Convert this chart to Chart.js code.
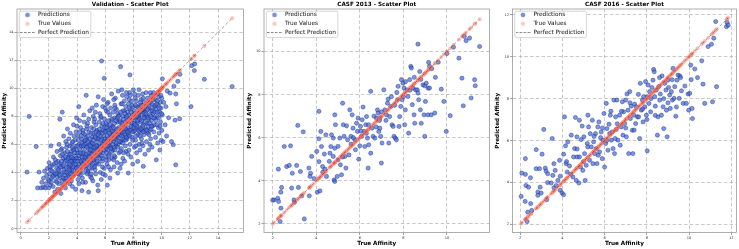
<!DOCTYPE html>
<html>
<head>
<meta charset="utf-8">
<script src="https://cdn.jsdelivr.net/npm/chart.js@4.4.0/dist/chart.umd.min.js"></script>
<style>
html, body { margin: 0; padding: 0; background: #fff; }
#wrap { position: relative; width: 739px; height: 249px; overflow: hidden; }
canvas { position: absolute; top: 0; }
</style>
</head>
<body>
<div id="wrap">
  <canvas id="c1" width="246" height="249" style="left:0px"></canvas>
  <canvas id="c2" width="246" height="249" style="left:246px"></canvas>
  <canvas id="c3" width="247" height="249" style="left:492px"></canvas>
</div>
<script>
// [true affinity, predicted affinity]
var valData = [
  [0.45,4.03],[0.6,8.0],[1.1,5.85],[1.3,4.03],[1.2,2.9],
  [1.45,2.9],[1.6,2.95],[1.75,2.9],[1.5,3.3],[1.62,3.6],[1.7,4.1],[1.8,3.2],[1.85,3.8],[1.9,4.3],[1.95,3.5],
  [2.0,2.9],[2.02,4.7],[2.05,3.9],[2.1,3.1],[2.12,4.2],[2.15,5.9],[2.2,3.6],[2.25,4.5],[2.3,3.0],[2.32,5.1],
  [2.35,3.8],[2.4,4.0],[2.42,2.6],[2.45,4.9],[2.5,3.4],
  [2.55,4.3],[2.58,5.5],[2.6,3.7],[2.62,2.8],[2.65,4.8],[2.7,3.2],[2.72,6.0],[2.75,4.1],[2.78,7.8],[2.8,3.6],
  [2.82,5.2],[2.85,2.5],[2.88,4.6],[2.9,3.9],[2.92,5.7],[2.95,8.3],[2.98,4.4],[3.0,3.1],[3.02,5.0],[3.05,6.6],
  [3.08,4.2],[3.1,3.5],[3.12,5.4],[3.15,4.8],[3.18,2.9],[3.2,6.2],[3.22,4.0],[3.25,5.8],[3.28,3.4],[3.3,4.6],
  [3.32,7.1],[3.35,5.1],[3.38,3.8],[3.4,4.4],[3.42,6.4],[3.45,5.3],[3.47,3.2],[3.5,4.9],[3.5,5.9],[3.48,4.1],
  [3.52,6.8],[3.55,4.5],[3.57,3.6],[3.6,5.5],[3.62,4.2],[3.65,6.1],[3.67,3.0],[3.7,5.0],[3.72,4.7],[3.75,7.4],
  [3.77,5.7],[3.8,3.9],[3.82,4.9],[3.85,6.3],[3.87,5.2],[3.9,2.8],[3.92,4.4],[3.95,5.9],[3.97,7.9],[4.0,4.1],
  [4.02,5.4],[4.05,6.6],[4.07,3.5],[4.1,5.0],[4.12,8.7],[4.15,4.6],[4.17,6.0],[4.2,5.6],[4.22,3.8],[4.25,7.2],
  [4.27,4.3],[4.3,5.3],[4.32,6.4],[4.35,2.7],[4.37,4.9],[4.4,5.8],[4.42,7.0],[4.45,4.0],[4.47,6.2],[4.5,5.1],
  [3.58,5.1],[3.68,4.3],[3.78,6.6],[3.88,4.0],[3.98,5.6],[4.08,4.4],[4.18,7.7],[4.28,5.9],[4.38,3.6],[4.48,8.1],
  [3.63,3.9],[3.93,6.9],[4.13,3.2],[4.33,4.7],[4.43,6.8],
  [4.52,5.5],[4.55,4.4],[4.57,6.7],[4.6,3.3],[4.62,5.9],[4.65,9.5],[4.67,4.8],[4.7,6.3],[4.72,5.2],[4.75,7.5],
  [4.77,4.1],[4.8,5.7],[4.82,2.6],[4.85,6.9],[4.87,4.6],[4.9,8.4],[4.92,5.4],[4.95,3.7],[4.97,6.1],[5.0,5.0],
  [5.02,7.2],[5.05,4.3],[5.07,6.5],[5.1,5.8],[5.12,3.4],[5.15,8.0],[5.17,4.9],[5.2,6.0],[5.22,5.3],[5.25,7.8],
  [5.27,4.5],[5.3,6.6],[5.32,3.9],[5.35,5.6],[5.37,8.8],[5.4,4.7],[5.42,7.0],[5.45,6.2],[5.47,3.1],[5.5,9.4],
  [4.58,5.1],[4.68,7.1],[4.78,4.0],[4.88,6.0],[4.98,4.7],[5.08,8.6],[5.18,5.5],[5.28,4.2],[5.38,6.4],[5.48,5.2],
  [4.63,6.5],[4.73,3.9],[4.83,7.8],[4.93,5.9],[5.03,3.6],[5.13,6.8],[5.23,4.4],[5.33,7.4],[5.43,5.9],[5.5,2.7],
  [5.52,6.4],[5.55,4.6],[5.57,7.6],[5.6,5.3],[5.62,8.2],[5.65,4.0],[5.67,6.9],[5.7,5.7],[5.72,3.5],[5.74,11.95],
  [5.75,7.3],[5.77,6.1],[5.8,4.8],[5.82,8.7],[5.85,5.4],[5.87,7.0],[5.9,6.6],[5.92,4.3],[5.93,10.72],[5.95,7.8],
  [5.97,5.9],[6.0,3.8],[6.02,6.9],[6.05,5.1],[6.07,8.4],[6.1,6.3],[6.12,4.6],[6.15,3.1],[6.15,7.4],[6.17,5.6],
  [6.2,9.0],[6.22,6.0],[6.25,4.9],[6.27,7.1],[6.3,5.3],[6.32,8.1],[6.35,6.7],[6.37,4.2],[6.4,7.7],[6.42,5.8],
  [6.45,9.6],[6.47,6.4],[6.5,5.0],[5.58,5.9],[5.68,7.9],[5.78,5.0],[5.88,9.2],[5.98,6.4],[6.08,4.9],[6.18,7.0],
  [6.28,5.9],[6.38,8.6],[6.48,6.9],[5.63,6.6],[5.83,3.9],[6.03,7.5],[6.23,4.4],[6.43,7.2],[6.33,3.6],[6.13,8.9],
  [6.52,7.3],[6.55,5.6],[6.57,8.3],[6.6,6.2],[6.62,4.4],[6.65,7.9],[6.67,6.8],[6.7,5.1],[6.72,9.3],[6.75,7.0],
  [6.77,5.9],[6.8,8.5],[6.82,6.5],[6.85,4.7],[6.88,3.96],[6.87,7.6],[6.9,6.0],[6.92,9.8],[6.95,7.2],[6.97,5.4],
  [7.0,8.1],[7.02,6.7],[7.05,4.3],[7.07,7.7],[7.09,11.55],[7.1,6.2],[7.12,8.9],[7.15,5.7],[7.17,7.4],[7.2,6.8],
  [7.22,9.5],[7.25,5.0],[7.27,8.0],[7.3,7.1],[7.32,6.3],[7.35,9.1],[7.37,4.8],[7.4,7.6],[7.42,6.6],[7.45,8.7],
  [7.47,5.5],[7.5,7.9],[6.58,6.9],[6.68,8.8],[6.78,6.1],[6.88,8.2],[6.98,6.9],[7.08,5.5],[7.18,9.9],[7.28,6.5],
  [7.38,8.4],[7.48,6.9],[6.63,5.2],[7.13,4.6],[7.43,5.9],
  [7.52,9.4],[7.55,6.4],[7.57,8.3],[7.6,7.2],[7.64,3.96],[7.62,5.3],[7.65,8.9],[7.67,6.7],[7.7,7.8],[7.72,9.7],
  [7.75,10.96],[7.75,6.0],[7.77,8.5],[7.8,7.0],[7.82,5.1],[7.85,9.1],[7.87,7.5],[7.9,6.5],[7.92,8.1],[7.95,4.6],
  [7.97,7.3],[8.0,9.9],[8.02,6.9],[8.05,8.4],[8.07,5.8],[8.1,7.7],[8.12,9.3],[8.15,6.3],[8.17,8.0],[8.2,7.1],
  [8.22,5.4],[8.25,8.7],[8.27,7.5],[8.3,4.79],[8.32,6.7],[8.35,9.5],[8.37,7.9],[8.4,6.0],[8.42,8.3],[8.45,7.2],
  [8.47,5.6],[8.5,8.8],[7.58,7.6],[7.78,9.5],[7.98,8.7],[8.18,5.9],[8.38,8.1],[8.48,6.6],[7.68,5.6],[8.08,9.6],
  [8.52,7.6],[8.55,9.2],[8.57,6.4],[8.6,8.1],[8.62,7.0],[8.65,9.6],[8.67,5.9],[8.7,4.44],[8.7,8.5],[8.72,7.4],
  [8.75,6.7],[8.77,9.0],[8.8,7.9],[8.82,5.3],[8.85,8.3],[8.87,7.1],[8.9,9.7],[8.92,6.2],[8.95,8.0],[8.97,7.5],
  [9.0,9.3],[9.02,6.8],[9.05,8.6],[9.07,5.6],[9.1,7.8],[9.12,9.1],[9.15,7.0],[9.2,8.4],[9.22,6.4],[9.25,9.5],
  [9.27,7.7],[9.3,8.9],[9.32,5.8],[9.35,7.3],[9.4,8.2],[9.42,9.7],[9.45,6.9],[9.5,8.7],[8.58,8.8],[9.17,6.0],
  [9.52,7.9],[9.55,9.2],[9.57,6.5],[9.6,8.5],[9.62,4.9],[9.65,7.4],[9.67,9.6],[9.7,8.0],[9.72,6.1],[9.75,8.8],
  [9.77,7.2],[9.8,9.4],[9.82,6.8],[9.85,8.3],[9.87,5.6],[9.9,9.0],[9.92,7.6],[9.95,8.6],[9.97,6.3],[10.0,9.3],
  [10.02,7.0],[10.05,10.68],[10.05,8.1],[10.1,6.2],[10.15,9.0],
  [10.25,7.4],[10.3,8.7],[10.35,6.6],[10.4,9.8],[10.5,7.9],[10.6,9.66],[10.7,6.2],[10.83,5.98],[10.87,10.15],[10.95,7.73],
  [11.0,4.55],[11.0,9.6],[11.05,8.9],[11.28,7.83],[11.3,11.0],[11.15,10.5],[12.08,8.7],[12.13,11.62],[12.34,11.74],[12.32,11.27],
  [13.03,10.65],[15.0,10.13],
  [3.55,5.3],[3.65,4.8],[3.75,5.6],[3.85,4.6],[3.95,5.0],[4.05,5.9],[4.15,5.2],[4.25,4.8],[4.35,6.1],[4.45,5.4],
  [4.55,6.0],[4.65,5.3],[4.75,6.6],[4.85,5.1],[4.95,6.4],[5.05,5.6],[5.15,6.3],[5.25,5.0],[5.35,6.9],[5.45,5.7],
  [5.55,6.8],[5.65,5.5],[5.75,6.4],[5.85,6.0],[5.95,7.2],[6.05,5.7],[6.15,6.6],[6.25,7.7],[6.35,6.2],[6.45,5.5],
  [6.55,6.7],[6.65,7.5],[6.75,6.4],[6.85,7.9],[6.95,6.5],[7.05,7.6],[7.15,6.6],[7.25,8.4],[7.35,7.3],[7.45,6.3],
  [7.55,7.0],[7.65,8.1],[7.75,7.0],[7.85,8.3],[7.95,6.9],[8.05,7.5],[8.15,8.8],[8.25,7.3],[8.35,8.0],[8.45,6.9],
  [8.55,8.4],[8.65,7.3],[8.75,8.2],[8.85,7.0],[8.95,8.9],[9.05,7.3],[9.15,8.1],[9.25,7.1],[9.35,8.6],[9.45,7.4],
  [3.6,3.4],[4.1,3.9],[4.6,4.3],[5.1,4.6],[5.6,5.0],[6.1,5.4],[6.6,5.8],[7.1,6.2],[7.6,6.6],[8.1,7.0],
  [8.6,6.1],[9.1,6.7],[3.7,6.2],[4.2,6.9],[4.7,7.3],[5.2,7.6],[5.7,8.0],[6.2,8.3],[6.7,8.6],[7.2,8.9],
  [7.7,9.2],[8.2,9.1],[8.7,9.3],[9.2,9.7],[9.7,9.1],[2.6,3.9],[2.9,4.8],[3.1,4.0],[3.3,5.5],[3.4,3.7],
  [2.7,4.5],[2.85,5.6],[3.05,3.6],[3.25,4.9],[3.45,4.6],
  [2.03,3.4],[2.08,4.4],[2.18,3.3],[2.22,4.1],[2.28,3.7],[2.38,4.6],[2.48,3.9],[2.52,4.7],[2.57,3.3],[2.67,4.2],
  [2.77,3.8],[2.83,4.4],[2.93,3.4],[2.97,5.3],[3.03,4.5],[3.13,3.8],[3.17,5.1],[3.23,3.6],[3.27,4.3],[3.37,5.0],
  [3.43,4.2],[3.53,3.9],[3.56,4.8],[3.66,5.8],[3.73,4.4],[3.83,5.4],[3.89,4.8],[3.96,4.3],[4.03,4.8],[4.09,6.3],
  [4.16,4.1],[4.23,5.4],[4.29,6.6],[4.36,5.1],[4.41,4.6],[4.46,5.9],[4.53,4.8],[4.59,6.3],[4.64,4.5],[4.69,5.8],
  [4.74,4.9],[4.79,6.2],[4.84,5.4],[4.89,4.3],[4.94,5.6],[4.99,6.8],[5.04,5.3],[5.09,6.1],[5.14,4.9],[5.19,7.1],
  [5.24,5.8],[5.29,6.5],[5.34,5.2],[5.39,5.9],[5.44,4.8],[5.49,6.7],[5.54,5.6],[5.59,7.1],[5.64,5.8],[5.69,6.3],
  [5.74,5.2],[5.79,6.8],[5.84,7.5],[5.89,5.6],[5.94,6.2],[5.99,6.9],[6.04,6.1],[6.09,7.2],[6.14,5.9],[6.19,6.4],
  [6.24,5.2],[6.29,6.8],[6.34,7.4],[6.39,5.7],[6.44,6.5],[6.49,7.8],[6.54,6.0],[6.59,7.2],[6.64,6.4],[6.69,5.6],
  [6.74,7.7],[6.79,6.7],[6.84,7.1],[6.89,5.8],[6.94,8.0],[6.99,6.2],[7.04,7.0],[7.09,8.3],[7.14,6.9],[7.19,7.5],
  [7.24,6.1],[7.29,7.8],[7.34,6.9],[7.39,8.2],[7.44,7.1],[7.49,6.5],[7.54,8.0],[7.59,6.9],[7.64,7.6],[7.69,8.6],
  [7.74,6.6],[7.79,7.8],[7.84,7.3],[7.89,8.8],[7.94,6.3],[7.99,7.9],[8.04,7.2],[8.09,8.2],[8.14,7.4],[8.19,6.6],
  [8.24,8.0],[8.29,7.7],[8.34,8.6],[8.39,7.0],[8.44,7.8],[8.49,9.0],[8.54,7.1],[8.59,7.7],[8.64,8.5],[8.69,6.9],
  [8.74,7.9],[8.79,8.6],[8.84,7.6],[8.89,8.2],[8.94,7.0],[8.99,8.5],[9.04,7.9],[9.09,8.8],[9.14,7.5],[9.19,9.0],
  [9.24,8.0],[9.29,7.3],[9.34,8.4],[9.39,9.2],[9.44,7.9],[9.49,8.3],[9.54,8.8],[9.59,7.7],[9.64,8.9],[9.69,8.3],
  [9.74,9.7],[9.79,7.9],[9.84,8.6],[9.89,7.3],[9.94,9.5],[9.99,8.2],[4.4,3.3],[5.0,3.9],[5.8,4.4],[6.6,4.9],
  [7.3,5.4],[3.3,6.0],[4.0,7.3],[4.5,7.6],[5.3,8.3],[6.0,8.6],[6.6,9.2],[7.5,9.7],[8.4,9.9]
];

var casf13Data = [
  [2.06,3.11],[2.23,3.19],[2.26,4.54],[2.27,3.04],[2.37,3.47],[2.41,3.69],[2.38,2.73],[2.34,2.11],[2.64,4.66],[2.53,5.59],
  [2.82,5.62],[2.76,4.71],[2.9,4.35],[2.87,3.66],[2.98,3.11],[3.1,4.71],[3.15,6.57],[3.27,4.43],[3.33,3.3],[3.18,3.69],
  [3.4,6.27],[3.45,2.23],[3.66,4.59],[3.68,3.3],[3.74,4.35],[3.79,5.13],[3.71,4.2],[4.02,5.36],[4.05,3.47],[4.12,7.22],
  [4.17,3.53],[4.21,6.29],[4.12,5.95],[4.12,4.89],[4.24,5.59],[4.29,4.66],[4.37,5.24],[4.4,4.54],[4.44,6.13],[4.47,4.2],
  [4.63,5.28],[4.67,5.59],[4.7,6.13],[4.78,5.13],[4.82,4.04],[4.85,7.06],[4.88,6.6],[4.85,5.51],[4.78,5.98],[4.85,3.97],
  [4.96,4.2],[5.0,4.97],[5.08,5.98],[5.11,4.74],[5.16,4.28],[5.21,7.6],[5.24,6.6],[5.28,6.06],[5.31,5.13],[5.36,4.59],
  [5.39,6.55],[5.44,5.9],[5.54,7.29],[5.59,6.06],[5.65,7.06],[5.69,6.44],[5.77,5.9],[5.8,5.44],[5.85,6.67],[5.89,6.29],
  [5.92,6.91],[5.95,5.0],[6.0,5.62],[6.03,6.52],[6.08,6.06],[6.11,6.83],[6.15,7.42],[6.2,6.29],[6.23,5.59],[6.27,6.6],
  [6.31,6.98],[6.35,5.98],[6.38,4.59],[6.41,5.67],[6.5,8.15],[6.5,5.28],[6.56,6.44],[6.61,6.06],[6.69,5.98],[6.76,6.91],
  [6.81,7.29],[6.84,7.14],[6.87,6.29],[6.92,6.44],[6.92,6.91],[6.96,6.06],[6.99,4.82],[7.02,5.75],[7.1,8.22],[7.15,7.29],
  [7.22,7.06],[7.27,7.6],[7.3,7.79],[7.33,5.75],[7.37,6.98],[7.42,7.45],[7.48,6.6],[7.53,6.52],[7.57,6.06],[7.63,5.98],
  [7.68,5.9],[7.73,7.76],[7.76,8.38],[7.8,6.52],[7.83,6.98],[7.88,7.45],[7.91,8.69],[7.94,7.76],[7.98,8.53],[8.03,8.3],
  [8.06,6.6],[8.09,7.29],[8.17,8.22],[8.21,7.91],[8.24,6.21],[8.29,8.69],[8.34,9.31],[8.37,9.23],[8.41,7.53],[8.44,8.3],
  [8.49,7.06],[8.52,6.67],[8.56,8.22],[8.64,8.22],[8.67,10.34],[8.67,8.07],[8.7,7.76],[8.75,9.07],[8.78,7.29],[8.82,6.67],
  [8.9,8.45],[8.95,7.06],[8.98,8.41],[8.98,6.06],[9.01,7.68],[9.05,8.53],[9.13,8.3],[9.2,8.3],[9.13,7.06],[9.16,9.49],
  [9.2,9.31],[9.28,7.06],[9.47,8.8],[9.44,7.14],[9.74,8.25],[9.86,7.68],[9.97,6.29],[10.15,7.02],[10.55,9.69],[10.69,8.76],
  [10.75,7.48],[10.88,10.5],[11.04,10.62],[11.11,7.84],[11.27,8.69],[11.3,8.41],[11.5,10.23],
  [2.0,3.1],[4.6,4.9],[5.0,5.6],[5.5,5.2],[5.7,6.0],[6.05,6.3],[6.4,6.6],[6.65,7.0],[6.75,6.5],[7.0,7.2],
  [7.2,6.8],[7.45,7.9],[7.7,8.1],[8.0,7.9],[8.1,8.6],[8.5,8.8],[9.3,9.2],[3.0,3.0],[3.9,4.1],[4.3,4.4],
  [5.2,5.1],[5.6,5.7],[6.3,6.2],[6.9,6.8],[7.6,7.5],[8.3,8.2],[8.8,8.7],[9.6,9.5],[10.0,9.9],[10.3,10.2],[10.8,10.7]
];

var casf16Data = [
  [2.05,3.34],[2.08,4.45],[2.25,4.39],[2.25,5.14],[2.24,3.1],[2.28,3.86],[2.33,2.14],[2.4,3.78],[2.36,2.59],[2.49,4.23],
  [2.55,2.67],[2.76,5.57],[2.76,4.66],[2.84,3.55],[2.84,3.39],[2.92,4.66],[2.95,3.78],[3.04,5.35],[3.12,6.53],[3.19,4.69],
  [3.23,4.55],[3.26,3.18],[3.31,4.42],[3.47,3.98],[3.52,6.1],[3.55,4.34],[3.6,3.75],[3.66,4.58],[3.71,3.86],[3.79,4.1],
  [3.87,5.06],[3.9,3.63],[3.99,3.5],[4.06,3.42],[4.06,5.35],[4.1,7.13],[4.15,5.75],[4.18,4.9],[4.23,4.5],[4.26,5.94],
  [4.34,4.79],[4.42,6.26],[4.5,4.26],[4.53,5.22],[4.58,5.62],[4.62,7.1],[4.66,4.1],[4.69,6.18],[4.7,5.22],[4.78,3.98],
  [4.81,6.97],[4.81,5.22],[4.86,4.74],[4.89,6.05],[4.94,6.69],[4.97,4.58],[5.02,6.18],[5.05,5.38],[5.08,4.1],[5.13,4.82],
  [5.18,5.86],[5.21,7.21],[5.24,6.65],[5.29,5.06],[5.32,6.33],[5.37,5.7],[5.42,6.97],[5.45,4.9],[5.48,5.94],[5.53,5.38],
  [5.57,6.33],[5.6,5.62],[5.64,4.9],[5.68,6.65],[5.73,6.89],[5.76,5.46],[5.81,6.14],[5.84,6.41],[5.89,5.14],[5.92,6.02],
  [5.97,7.29],[6.0,4.74],[6.05,5.86],[6.08,7.77],[6.11,6.57],[6.16,5.54],[6.21,6.78],[6.24,6.33],[6.27,7.21],[6.32,6.02],
  [6.36,6.41],[6.4,5.62],[6.44,7.93],[6.47,5.38],[6.52,7.13],[6.55,6.53],[6.58,7.93],[6.63,6.02],[6.71,7.21],[6.74,5.78],
  [6.79,6.65],[6.84,7.85],[6.87,6.26],[6.9,7.37],[6.95,6.81],[7.0,7.93],[7.03,6.18],[7.06,8.22],[7.11,7.45],[7.14,5.38],
  [7.19,8.33],[7.22,7.05],[7.26,7.64],[7.31,6.49],[7.34,5.38],[7.38,7.21],[7.42,7.74],[7.47,6.81],[7.5,7.61],[7.55,7.13],
  [7.61,7.13],[7.66,6.1],[7.69,8.73],[7.74,7.45],[7.79,7.93],[7.82,6.89],[7.85,8.09],[7.9,7.61],[7.94,8.81],[7.98,7.21],
  [8.01,8.09],[8.02,5.51],[8.06,8.65],[8.1,7.77],[8.13,8.33],[8.18,7.37],[8.24,8.53],[8.29,8.88],[8.32,9.39],[8.35,9.28],
  [8.37,8.09],[8.4,7.64],[8.45,8.41],[8.5,6.26],[8.53,7.13],[8.56,8.57],[8.61,7.93],[8.64,8.22],[8.69,7.21],[8.72,9.08],
  [8.77,7.61],[8.8,6.57],[8.85,8.73],[8.9,8.41],[8.93,7.45],[8.96,6.18],[9.0,8.88],[9.03,8.53],[9.08,8.17],[9.11,7.53],
  [9.16,8.33],[9.21,7.93],[9.24,9.44],[9.29,8.01],[9.32,8.57],[9.37,7.16],[9.43,8.88],[9.48,9.12],[9.53,8.01],[9.56,9.08],
  [9.64,8.37],[9.72,7.77],[9.87,7.77],[9.95,8.22],[9.98,7.45],[10.03,8.25],[10.08,9.6],[10.14,7.53],[10.16,7.05],[10.27,9.41],
  [10.66,8.69],[10.74,7.77],[10.9,10.48],[11.06,10.59],[11.11,7.85],[11.17,10.88],[11.3,8.57],[11.26,11.67],[11.77,11.43],[11.8,11.63],
  [11.85,11.5],
  [2.5,3.0],[3.0,3.5],[3.3,4.0],[3.6,4.9],[3.9,4.3],[4.2,5.0],[4.4,4.4],[4.7,5.6],[5.0,5.0],[5.2,5.7],
  [5.5,6.2],[5.7,5.3],[5.9,6.6],[6.1,6.0],[6.3,7.4],[6.5,6.1],[6.6,6.8],[6.8,7.4],[7.0,6.6],[7.2,7.8],
  [7.4,6.5],[7.6,8.2],[7.8,7.5],[8.0,7.0],[8.2,8.0],[8.4,7.2],[8.6,9.0],[8.8,8.0],[9.0,7.8],[9.2,8.9],
  [9.4,7.6],[9.6,9.0],[9.8,8.6],[10.1,8.9],[10.4,9.0],[10.6,9.8]
];

var valTicks = [0, 2, 4, 6, 8, 10, 12, 14];
var casf13Ticks = [2, 4, 6, 8, 10];
var casf16Ticks = [2, 4, 6, 8, 10, 12];

var seriesNames = ['Predictions', 'True Values', 'Perfect Prediction'];

var FONT = 'DejaVu Sans';
var GRID = 'rgba(170,170,170,0.8)';

// little icons for the legend
function icon(kind) {
    var c = document.createElement('canvas');
    var g = c.getContext('2d');
    if (kind == 'line') {
        c.width = 15; c.height = 3;
        g.strokeStyle = 'rgba(0,0,0,0.55)';
        g.lineWidth = 0.8;
        g.setLineDash([2.6, 1.4]);
        g.beginPath(); g.moveTo(0, 1.5); g.lineTo(15, 1.5); g.stroke();
    } else {
        c.width = 6; c.height = 6;
        g.beginPath(); g.arc(3, 3, 2.0, 0, Math.PI * 2);
        if (kind == 'pred') {
            g.fillStyle = 'rgba(65,105,225,0.7)'; g.fill();
            g.strokeStyle = 'rgba(25,35,110,0.6)'; g.lineWidth = 0.45; g.stroke();
        } else {
            g.fillStyle = 'rgba(250,128,114,0.45)'; g.fill();
        }
    }
    return c;
}
var legendIcons = [icon('pred'), icon('true'), icon('line')];

var framePlugin = {
    id: 'frame',
    afterUpdate: function(chart) {
        // put the legend inside the plot area, top left
        var lg = chart.legend, a = chart.chartArea;
        lg.fit();
        lg.left = a.left; lg.top = a.top;
        lg.right = a.left + lg.width;
        lg.bottom = a.bottom; lg.height = a.bottom - a.top;
        lg.adjustHitBoxes();
    },
    afterDatasetsDraw: function(chart) {
        var ctx = chart.ctx, a = chart.chartArea;
        ctx.save();
        ctx.strokeStyle = '#9a9a9a';
        ctx.lineWidth = 0.8;
        ctx.strokeRect(a.left, a.top, a.right - a.left, a.bottom - a.top);
        // legend box
        var hb = chart.legend.legendHitBoxes;
        var l = 1e9, r = -1e9;
        hb.forEach(function(h) { l = Math.min(l, h.left); r = Math.max(r, h.left + h.width); });
        var t = hb[0].top - 0.8, b = hb[hb.length - 1].top + hb[hb.length - 1].height + 2.2;
        l -= 0.7; r += 2;
        ctx.beginPath();
        ctx.roundRect(l, t, r - l, b - t, 1.5);
        ctx.fillStyle = 'rgba(255,255,255,0.9)';
        ctx.fill();
        ctx.strokeStyle = '#c4c4c4';
        ctx.lineWidth = 0.7;
        ctx.stroke();
        ctx.restore();
        chart.legend.draw();
    }
};

function makeChart(id, title, data, ticks, xr, yr, yAxisW, padRight, yTitlePad) {
    var preds = data.map(function(d) { return {x: d[0], y: d[1]}; });
    var trues = data.map(function(d) { return {x: d[0], y: d[0]}; });
    var xs = data.map(function(d) { return d[0]; });
    var lo = Math.min.apply(null, xs), hi = Math.max.apply(null, xs);

    var setTicks = function(s) { s.ticks = ticks.map(function(v) { return {value: v}; }); };
    var tickFont = {family: FONT, size: 3.6};
    var titleFont = {family: FONT, size: 5.7, weight: 'bold'};

    return new Chart(document.getElementById(id), {
        type: 'scatter',
        data: {
            datasets: [{
                label: seriesNames[0],
                data: preds,
                order: 3,
                backgroundColor: 'rgba(65,105,225,0.7)',
                borderColor: 'rgba(20,30,95,0.75)',
                borderWidth: 0.5,
                pointRadius: 2.1,
                pointHoverRadius: 2.1
            }, {
                label: seriesNames[1],
                data: trues,
                order: 2,
                backgroundColor: 'rgba(250,105,85,0.4)',
                borderWidth: 0,
                pointRadius: 2.0,
                pointHoverRadius: 2.0
            }, {
                label: seriesNames[2],
                type: 'line',
                data: [{x: lo, y: lo}, {x: hi, y: hi}],
                order: 1,
                borderColor: 'rgba(0,0,0,0.5)',
                borderWidth: 0.7,
                borderDash: [3, 2],
                pointRadius: 0,
                fill: false
            }]
        },
        options: {
            responsive: false,
            animation: false,
            events: [],
            layout: { padding: { left: 0, right: padRight, top: 0, bottom: 0 } },
            scales: {
                x: {
                    type: 'linear', min: xr[0], max: xr[1],
                    afterBuildTicks: setTicks,
                    afterFit: function(s) { s.height = 16.5; },
                    grid: { color: GRID, lineWidth: 0.8, tickLength: 2.5, tickColor: '#666', tickWidth: 0.6 },
                    border: { display: false, dash: [3.5, 2.2] },
                    ticks: { font: tickFont, color: '#333', padding: 1, maxRotation: 0, autoSkip: false },
                    title: { display: true, text: 'True Affinity', font: titleFont, color: '#000', padding: { top: 0, bottom: 2 } }
                },
                y: {
                    type: 'linear', min: yr[0], max: yr[1],
                    afterBuildTicks: setTicks,
                    afterFit: function(s) { s.width = yAxisW; },
                    grid: { color: GRID, lineWidth: 0.8, tickLength: 2.5, tickColor: '#666', tickWidth: 0.6 },
                    border: { display: false, dash: [3.5, 2.2] },
                    ticks: { font: tickFont, color: '#333', padding: 1, autoSkip: false },
                    title: { display: true, text: 'Predicted Affinity', font: titleFont, color: '#000', padding: { top: yTitlePad, bottom: 0 } }
                }
            },
            plugins: {
                tooltip: { enabled: false },
                title: {
                    display: true, text: title, fullSize: false,
                    font: titleFont, color: '#000',
                    padding: { top: 1.5, bottom: 0.66 }
                },
                legend: {
                    position: 'chartArea', align: 'start',
                    labels: {
                        usePointStyle: true, pointStyleWidth: 15, padding: 3,
                        font: { family: FONT, size: 5.8 }, color: '#222',
                        sort: function(a, b) { return a.datasetIndex - b.datasetIndex; },
                        generateLabels: function(chart) {
                            var items = Chart.defaults.plugins.legend.labels.generateLabels(chart);
                            items.forEach(function(it) { it.pointStyle = legendIcons[it.datasetIndex]; });
                            return items;
                        }
                    }
                }
            }
        },
        plugins: [framePlugin]
    });
}

makeChart('c1', 'Validation - Scatter Plot', valData, valTicks, [-0.26, 15.8], [-0.28, 15.66], 17, 2, 1.6);
makeChart('c2', 'CASF 2013 - Scatter Plot', casf13Data, casf13Ticks, [1.6, 11.95], [1.6, 11.97], 18, 2, 0.6);
makeChart('c3', 'CASF 2016 - Scatter Plot', casf16Data, casf16Ticks, [1.64, 12.24], [1.62, 12.27], 20.5, 2.3, 2.6);
</script>
</body>
</html>
